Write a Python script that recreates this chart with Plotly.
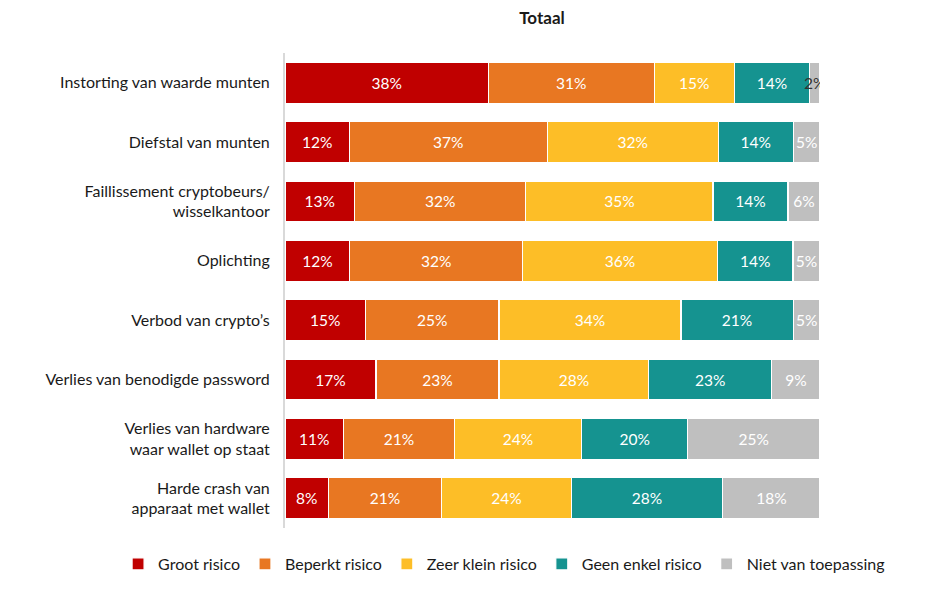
import plotly.graph_objects as go

categories = [
    "Instorting van waarde munten",
    "Diefstal van munten",
    "Faillissement cryptobeurs/<br>wisselkantoor",
    "Oplichting",
    "Verbod van crypto’s",
    "Verlies van benodigde password",
    "Verlies van hardware<br>waar wallet op staat",
    "Harde crash van<br>apparaat met wallet",
]

series_names = ["Groot risico", "Beperkt risico", "Zeer klein risico",
                "Geen enkel risico", "Niet van toepassing"]

groot = [38, 12, 13, 12, 15, 17, 11, 8]
beperkt = [31, 37, 32, 32, 25, 23, 21, 21]
zeer_klein = [15, 32, 35, 36, 34, 28, 24, 24]
geen = [14, 14, 14, 14, 21, 23, 20, 28]
niet_vt = [2, 5, 6, 5, 5, 9, 25, 18]

colors = ["#C00000", "#E87722", "#FDBE27", "#159390", "#BFBFBF"]
FONT = "Lato"

# the page body has an 8px margin, so the figure is drawn 8px smaller
W, H = 929, 586
PLOT_H = 475


def create_figure():
    fig = go.Figure()
    fig.update_layout(width=W, height=H, template="plotly_white",
                      paper_bgcolor="white", plot_bgcolor="white",
                      margin=dict(l=277, r=117, t=45, b=H - 45 - PLOT_H),
                      font=dict(family=FONT, size=16, color="#1a1a1a"))
    return fig


def plot_bars(fig):
    all_series = [groot, beperkt, zeer_klein, geen, niet_vt]
    for i, vals in enumerate(all_series):
        last = i == len(all_series) - 1
        txt_colors = ["#333333" if (last and v < 3) else "white" for v in vals]
        fig.add_trace(go.Bar(
            name=series_names[i], y=categories, x=vals, orientation="h",
            marker=dict(color=colors[i], line=dict(color="white", width=1.2)),
            text=[f"{v}%" for v in vals], textposition="inside", textangle=0,
            insidetextanchor="middle", constraintext="none",
            textfont=dict(family=FONT, size=15.5, color=txt_colors),
            hoverinfo="skip"))
    fig.update_layout(barmode="stack", barnorm="percent", bargap=0.31)


def touch_up(fig):
    fig.update_xaxes(range=[0, 100], visible=False, showgrid=False)
    fig.update_yaxes(autorange="reversed", showgrid=False, showline=True,
                     linecolor="#D9D9D9", linewidth=2, ticks="",
                     ticklabelstandoff=10, tickfont=dict(size=16, color="#1a1a1a"))
    # legend kept just high enough that it does not push the bottom margin
    fig.update_layout(
        title=dict(text="<b>Totaal</b>", x=(542 - 8) / W, xref="container", xanchor="center",
                   y=1 - 10 / H, yref="container", yanchor="middle",
                   font=dict(size=17, color="#1a1a1a")),
        legend=dict(orientation="h", xref="paper", x=-0.312, xanchor="left",
                    yref="paper", y=-19 / PLOT_H, yanchor="top",
                    font=dict(size=16, color="#1a1a1a"),
                    traceorder="normal"))


fig = create_figure()
plot_bars(fig)
touch_up(fig)
fig.write_html("out.html")
